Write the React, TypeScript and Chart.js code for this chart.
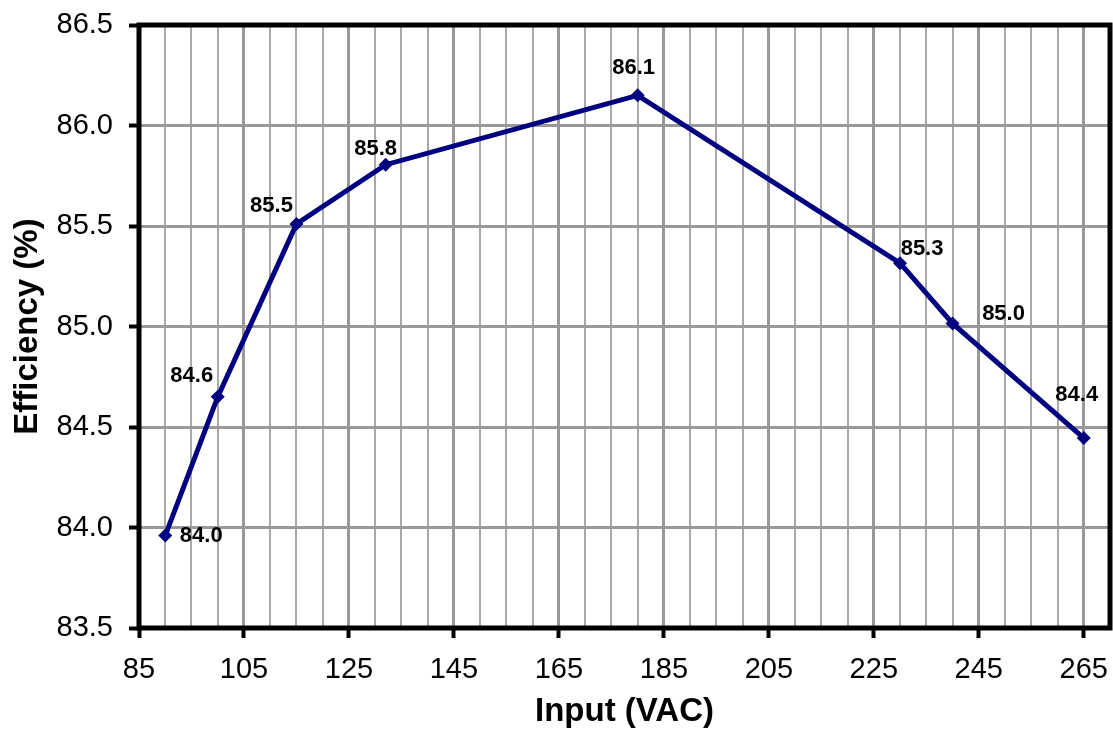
import React, { useEffect, useRef } from "react";
import { Chart, registerables } from "chart.js";

Chart.register(...registerables);

const inputVac = [90, 100, 115, 132, 180, 230, 240, 265];
const efficiency = [83.96, 84.65, 85.51, 85.805, 86.15, 85.315, 85.015, 84.445];
const pointLabels = ["84.0", "84.6", "85.5", "85.8", "86.1", "85.3", "85.0", "84.4"];
const xTickLabels = [85, 105, 125, 145, 165, 185, 205, 225, 245, 265];
const yTickLabels = [83.5, 84.0, 84.5, 85.0, 85.5, 86.0, 86.5];

// label placement relative to each point (text centre offset in px)
const labelOffsets: [number, number][] = [
  [36, 0],
  [-26, -21],
  [-25, -18],
  [-10, -16],
  [-4, -27],
  [22, -14],
  [51, -10],
  [-7, -43],
];

const FONT = "Arial, 'Liberation Sans', sans-serif";

const frameAndLabels = {
  id: "frameAndLabels",
  beforeDatasetsDraw(chart: any) {
    const { ctx, chartArea } = chart;
    ctx.save();
    ctx.strokeStyle = "#000";
    ctx.lineWidth = 5;
    ctx.strokeRect(chartArea.left, chartArea.top, chartArea.right - chartArea.left, chartArea.bottom - chartArea.top);
    ctx.restore();
  },
  afterDatasetsDraw(chart: any) {
    const { ctx } = chart;
    const meta = chart.getDatasetMeta(0);
    ctx.save();
    ctx.font = `bold 22px ${FONT}`;
    ctx.fillStyle = "#000";
    ctx.textAlign = "center";
    ctx.textBaseline = "middle";
    meta.data.forEach((pt: any, i: number) => {
      const [dx, dy] = labelOffsets[i];
      ctx.fillText(pointLabels[i], pt.x + dx, pt.y + dy);
    });
    ctx.restore();
  },
};

export default function App() {
  const ref = useRef<HTMLCanvasElement | null>(null);
  useEffect(() => {
    if (!ref.current) return;
    const chart = new Chart(ref.current, {
      type: "line",
      data: {
        datasets: [
          {
            data: inputVac.map((x, i) => ({ x, y: efficiency[i] })),
            borderColor: "#000080",
            backgroundColor: "#000080",
            borderWidth: 5,
            pointStyle: "rectRot",
            pointRadius: 7,
            pointBorderWidth: 0,
            tension: 0,
          },
        ],
      },
      options: {
        animation: false,
        responsive: true,
        maintainAspectRatio: false,
        layout: { autoPadding: false, padding: { top: 25, right: 3, left: 0, bottom: 0 } },
        plugins: { legend: { display: false }, tooltip: { enabled: false } },
        scales: {
          x: {
            type: "linear",
            min: 85,
            max: 270,
            border: { display: false },
            ticks: {
              stepSize: 5,
              autoSkip: false,
              maxRotation: 0,
              padding: 15,
              color: "#000",
              font: { family: FONT, size: 29 },
              callback: (v: any) => (xTickLabels.includes(Number(v)) ? String(v) : ""),
            },
            grid: {
              drawTicks: true,
              tickLength: 10,
              color: (c: any) => ((c.tick.value - 85) % 20 === 0 ? "#999999" : "#a8a8a8"),
              lineWidth: (c: any) => ((c.tick.value - 85) % 20 === 0 ? 3 : 2),
              tickColor: (c: any) => (xTickLabels.includes(c.tick.value) ? "#000" : "rgba(0,0,0,0)"),
              tickWidth: 4,
            },
            title: {
              display: true,
              text: "Input (VAC)",
              color: "#000",
              font: { family: FONT, size: 33, weight: "bold" },
              padding: { top: 0, bottom: 11 },
            },
            afterFit: (s: any) => {
              s.height = 115;
              s.paddingLeft = 0;
              s.paddingRight = 0;
            },
          },
          y: {
            min: 83.5,
            max: 86.5,
            border: { display: false },
            ticks: {
              stepSize: 0.5,
              padding: 16,
              color: "#000",
              font: { family: FONT, size: 29 },
              callback: (v: any) => {
                const n = Number(v);
                return yTickLabels.some((t) => Math.abs(t - n) < 1e-6) ? n.toFixed(1) : "";
              },
            },
            grid: {
              drawTicks: true,
              tickLength: 10,
              color: "#999999",
              lineWidth: 3,
              tickColor: "#000",
              tickWidth: 4,
            },
            title: {
              display: true,
              text: "Efficiency (%)",
              color: "#000",
              font: { family: FONT, size: 33, weight: "bold" },
              padding: { top: 8, bottom: 0 },
            },
            afterFit: (s: any) => {
              s.width = 139;
              s.paddingTop = 0;
              s.paddingBottom = 0;
            },
          },
        },
      },
      plugins: [frameAndLabels],
    });
    return () => chart.destroy();
  }, []);
  return (
    <div style={{ position: "fixed", left: 0, top: 0, width: 1113, height: 743, background: "#fff" }}>
      <canvas ref={ref} />
    </div>
  );
}
